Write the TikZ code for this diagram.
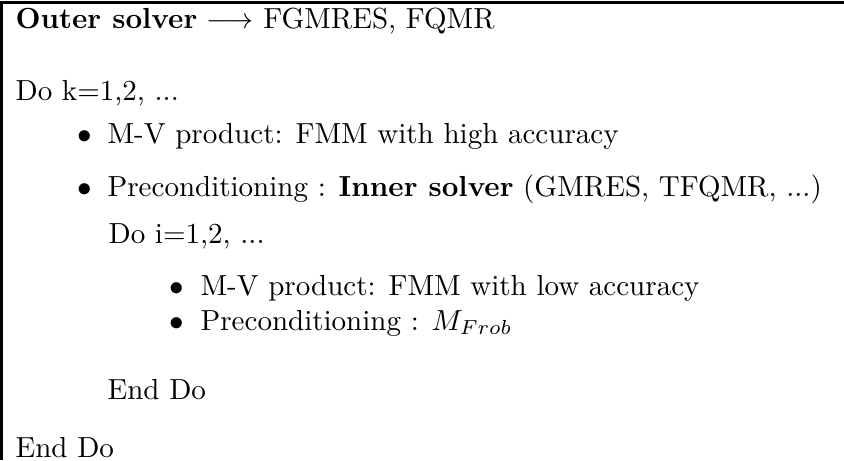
\documentclass[tikz,border=0pt]{standalone}
\usepackage{amsmath}

\begin{document}
\begin{tikzpicture}[
	x=0.3445pt, y=-0.3445pt,
	txt/.style={ anchor=base west, inner sep=0pt },
	bul/.style={ anchor=base, inner sep=0pt }
]

\useasboundingbox (0,0) rectangle (844,460);
\draw[line width=1pt] (1.5,460) -- (1.5,2.5) -- (844,2.5);

\node at (15,28) (outer) [txt] {\textbf{Outer solver} $\longrightarrow$ FGMRES, FQMR};
\node at (15,100) (dok) [txt] {Do k=1,2, ...};
\node at (85,143) (b1) [bul] {$\bullet$};
\node at (107,143) (mvhigh) [txt] {M-V product: FMM with high accuracy};
\node at (85,196) (b2) [bul] {$\bullet$};
\node at (107,196) (prec) [txt] {Preconditioning : \textbf{Inner solver} (GMRES, TFQMR, ...)};
\node at (108,243) (doi) [txt] {Do i=1,2, ...};
\node at (177,295) (b3) [bul] {$\bullet$};
\node at (200,295) (mvlow) [txt] {M-V product: FMM with low accuracy};
\node at (177,330) (b4) [bul] {$\bullet$};
\node at (200,330) (frob) [txt] {Preconditioning : $M_{Frob}$};
\node at (107,399) (endi) [txt] {End Do};
\node at (15,457) (endk) [txt] {End Do};

\end{tikzpicture}
\end{document}
